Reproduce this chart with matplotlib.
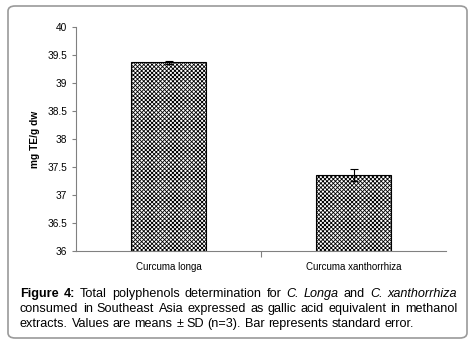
import matplotlib
matplotlib.use("Agg")
import matplotlib.pyplot as plt
from matplotlib.patches import FancyBboxPatch

plt.rcParams['font.family'] = ['Liberation Sans', 'DejaVu Sans']
plt.rcParams['hatch.linewidth'] = 0.6

# data
species = ["Curcuma longa", "Curcuma xanthorrhiza"]
values = [39.37, 37.36]
errors = [0.03, 0.11]
y_ticks = [36, 36.5, 37, 37.5, 38, 38.5, 39, 39.5, 40]
y_tick_labels = ["36", "36.5", "37", "37.5", "38", "38.5", "39", "39.5", "40"]

W, H = 476, 344
fig = plt.figure(figsize=(W / 100, H / 100), dpi=100)

# rounded frame around the whole figure
frame = FancyBboxPatch((8 / W, 6 / H), 459 / W, 332 / H,
                       boxstyle="round,pad=0,rounding_size=0.015",
                       transform=fig.transFigure, fill=False,
                       edgecolor="#9a9a9a", linewidth=1.2)
fig.patches.append(frame)

ax = fig.add_axes([76 / W, 1 - 251 / H, 370 / W, 224 / H])
x = [0, 1]
ax.bar(x, values, width=0.41, bottom=0, color="white", edgecolor="black",
       hatch="xxxxxxxx", linewidth=0.8)
ax.errorbar(x, values, yerr=errors, fmt="none", ecolor="black",
            elinewidth=0.8, capsize=3, capthick=0.8)
ax.set_ylim(36, 40)
ax.set_xlim(-0.5, 1.5)
ax.set_yticks(y_ticks)
ax.set_yticklabels(y_tick_labels, fontsize=7.3)
ax.set_xticks([0.5])
ax.set_xticklabels([""])
ax.tick_params(axis="x", length=4, color="#808080", width=0.8)
ax.tick_params(axis="y", length=3, color="#808080", width=0.8)
for i, s in enumerate(species):
    ax.text(i, 35.72, s, ha="center", va="center", fontsize=7)
for side in ["top", "right"]:
    ax.spines[side].set_visible(False)
for side in ["left", "bottom"]:
    ax.spines[side].set_color("#808080")
    ax.spines[side].set_linewidth(0.8)
ax.set_ylabel("mg TE/g dw", fontsize=7.3, fontweight="bold", labelpad=5)

# caption, justified like the original
lines = [
    [("Figure", "bold", "normal"), ("4:", "bold", "normal"), ("Total", "normal", "normal"),
     ("polyphenols", "normal", "normal"), ("determination", "normal", "normal"),
     ("for", "normal", "normal"), ("C.", "normal", "italic"), ("Longa", "normal", "italic"),
     ("and", "normal", "normal"), ("C.", "normal", "italic"), ("xanthorrhiza", "normal", "italic")],
    [(w, "normal", "normal") for w in
     "consumed in Southeast Asia expressed as gallic acid equivalent in methanol".split()],
    [(w, "normal", "normal") for w in
     "extracts. Values are means ± SD (n=3). Bar represents standard error.".split()],
]
x0, x1 = 20, 457
baselines = [297, 312, 327]
fs = 9.1
renderer = fig.canvas.get_renderer()
m1 = fig.text(0, 0, "a a", fontsize=fs)
m2 = fig.text(0, 0, "aa", fontsize=fs)
space = m1.get_window_extent(renderer).width - m2.get_window_extent(renderer).width
m1.remove()
m2.remove()
for li, words in enumerate(lines):
    texts = []
    for w, wt, st in words:
        t = fig.text(0, 0, w, fontsize=fs, fontweight=wt, fontstyle=st,
                     va="baseline", ha="left")
        texts.append(t)
    widths = [t.get_window_extent(renderer).width for t in texts]
    if li < len(lines) - 1:
        gap = (x1 - x0 - sum(widths)) / (len(widths) - 1)
    else:
        gap = space
    pos = x0
    for t, wdt in zip(texts, widths):
        t.set_position((pos / W, 1 - baselines[li] / H))
        pos += wdt + gap

fig.savefig("out.png", dpi=100)
